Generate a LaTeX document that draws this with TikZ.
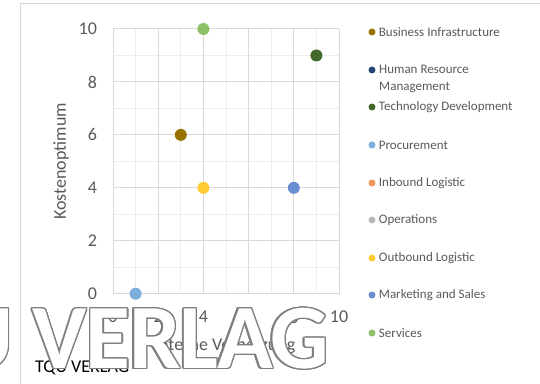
\documentclass[tikz,border=0pt]{standalone}
\usepackage{fontspec}
\setmainfont{Carlito}
\usetikzlibrary{positioning}

\definecolor{txtgray}{HTML}{595959}
\definecolor{gridmaj}{HTML}{D9D9D9}
\definecolor{gridmin}{HTML}{EDEDED}
\definecolor{framegray}{HTML}{D9D9D9}
\definecolor{wmgray}{HTML}{7F7F7F}
\definecolor{cinfra}{HTML}{997300}
\definecolor{chr}{HTML}{264478}
\definecolor{ctech}{HTML}{43682B}
\definecolor{cproc}{HTML}{7CAFDD}
\definecolor{cinb}{HTML}{F1975A}
\definecolor{cops}{HTML}{B7B7B7}
\definecolor{coutb}{HTML}{FFCD33}
\definecolor{cmkt}{HTML}{698ED0}
\definecolor{cserv}{HTML}{8CC168}

\tikzset{
  dot/.style={circle, inner sep=0pt, minimum size=12pt},
  legdot/.style={circle, inner sep=0pt, minimum size=7pt},
  legtext/.style={anchor=west, inner sep=0pt, text=txtgray, align=left,
    font=\fontsize{13}{17}\selectfont},
  ticklabel/.style={inner sep=0pt, text=txtgray, font=\fontsize{18}{20}\selectfont},
  wmark/.style={anchor=base east, inner sep=0pt,
    font=\fontsize{92}{94}\selectfont\bfseries\addfontfeatures{LetterSpace=-1.5}},
}

\begin{document}
\begin{tikzpicture}[x=1pt, y=1pt]
   \useasboundingbox (0,0) rectangle (540,383);
   \def\Xo{113}
   \def\Yo{89.3}
   \def\Dx{22.6}
   \def\Dy{26.47}

   % chart frame
   \draw[framegray, line width=1pt] (20,-5) -- (20,379) -- (545,379);

   \begin{scope}[shift={(\Xo,\Yo)}, x=\Dx pt, y=\Dy pt]
      % grid
      \foreach \i in {1,3,...,9} {
         \draw[gridmin, line width=0.8pt] (\i,0) -- (\i,10);
         \draw[gridmin, line width=0.8pt] (0,\i) -- (10,\i);
      }
      \foreach \i in {0,2,...,10} {
         \draw[gridmaj, line width=1pt] (\i,0) -- (\i,10);
         \draw[gridmaj, line width=1pt] (0,\i) -- (10,\i);
      }
      % tick labels
      \foreach \i in {0,2,...,10} {
         \node[ticklabel, anchor=east] (ytick\i) at (-0.7,\i) {\i};
         \node[ticklabel] (xtick\i) at (\i,-0.88) {\i};
      }
      % dots
      \node[dot, fill=cproc] (proc) at (1,0) {};
      \node[dot, fill=cinfra] (infra) at (3,6) {};
      \node[dot, fill=cserv] (serv) at (4,10) {};
      \node[dot, fill=coutb] (outb) at (4,4) {};
      \node[dot, fill=cmkt] (mkt) at (8,4) {};
      \node[dot, fill=ctech] (tech) at (9,9) {};
   \end{scope}

   % axis titles
   \node[ticklabel, rotate=90] (ytitle) at (61,221.5) {Kostenoptimum};
   \node[ticklabel] (xtitle) at (225,37) {Interne Vernetzung};

   % legend
   \node[legdot, fill=cinfra] (minfra) at (372,351) {};
   \node[legtext, right=3pt of minfra] (linfra) {Business Infrastructure};
   \node[legdot, fill=chr] (mhr) at (372,313) {};
   \node[legtext] (lhr) at (379,304.5) {Human Resource\\Management};
   \node[legdot, fill=ctech] (mtech) at (372,276) {};
   \node[legtext, right=3pt of mtech] (ltech) {Technology Development};
   \node[legdot, fill=cproc] (mproc) at (372,238) {};
   \node[legtext, right=3pt of mproc] (lproc) {Procurement};
   \node[legdot, fill=cinb] (minb) at (372,200) {};
   \node[legtext, right=3pt of minb] (linb) {Inbound Logistic};
   \node[legdot, fill=cops] (mops) at (372,163) {};
   \node[legtext, right=3pt of mops] (lops) {Operations};
   \node[legdot, fill=coutb] (moutb) at (372,125) {};
   \node[legtext, right=3pt of moutb] (loutb) {Outbound Logistic};
   \node[legdot, fill=cmkt] (mmkt) at (372,88) {};
   \node[legtext, right=3pt of mmkt] (lmkt) {Marketing and Sales};
   \node[legdot, fill=cserv] (mserv) at (372,50) {};
   \node[legtext, right=3pt of mserv] (lserv) {Services};

   % publisher text
   \node[anchor=base west, inner sep=0pt, font=\fontsize{18}{20}\selectfont] (pub) at (35,11) {TQU VERLAG};

   % watermark
   \foreach \a in {0,20,...,340}
      \node[wmark, text=wmgray, shift={(\a:1.5pt)}] at (329,14.5) {TQU VERLAG};
   \node[wmark, text=white] (wm) at (329,14.5) {TQU VERLAG};
\end{tikzpicture}
\end{document}
